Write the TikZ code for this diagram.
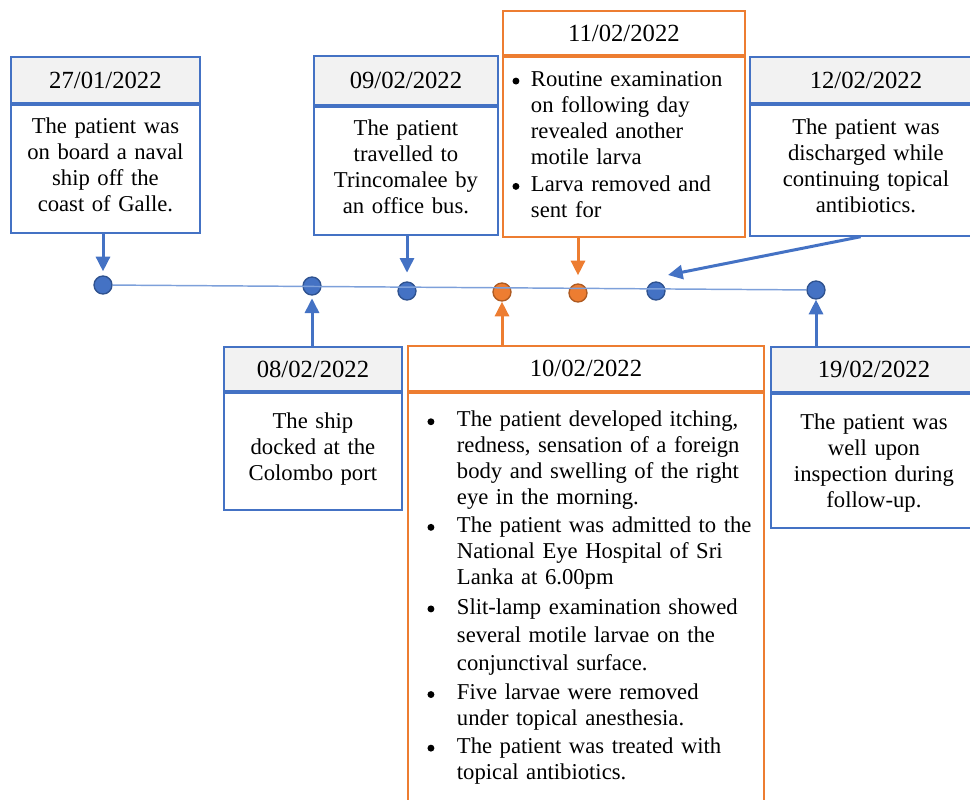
\documentclass[tikz,border=0pt]{standalone}
\usepackage{fontspec}
\setmainfont{Liberation Serif}
\usepackage{enumitem}
\usetikzlibrary{arrows.meta, calc}
\definecolor{evblue}{HTML}{4472C4}
\definecolor{evblueedge}{HTML}{2F528F}
\definecolor{evorange}{HTML}{ED7D31}
\definecolor{evorangeedge}{HTML}{AE5A21}
\definecolor{headgray}{HTML}{F2F2F2}
\definecolor{linkblue}{HTML}{7DA0DA}
\newcommand{\itemdot}{\tikz[baseline={(0pt,-3.8pt)}]\fill (0pt,0pt) circle (2.6pt);}
\tikzset{
    datecell/.style={line width=1.4pt, anchor=north west, inner sep=0pt,
        font=\fontsize{18.5}{21}\selectfont, align=center},
    notecell/.style={line width=1.4pt, anchor=north west, inner sep=0pt,
        font=\fontsize{17}{19.5}\selectfont, align=center},
    bluedate/.style={datecell, draw=evblue, fill=headgray},
    orangedate/.style={datecell, draw=evorange, fill=white},
    bluenote/.style={notecell, draw=evblue, execute at begin node=\strut,
        execute at end node={\strut\vspace{#1}}},
    bluenote/.default=3pt,
    orangenote/.style={notecell, draw=evorange, align=left},
    eventdot/.style={circle, inner sep=0pt, minimum size=13.5pt, line width=1pt},
    bluedot/.style={eventdot, fill=evblue, draw=evblueedge},
    orangedot/.style={eventdot, fill=evorange, draw=evorangeedge},
    bluearrow/.style={draw=evblue, line width=2.25pt,
        -{Triangle[length=11pt, width=10.5pt]}},
    orangearrow/.style={draw=evorange, line width=2.25pt,
        -{Triangle[length=11pt, width=10.5pt]}},
    timeline/.style={draw=linkblue, line width=1.1pt},
}

\begin{document}
\begin{tikzpicture}[x=0.75pt, y=-0.75pt]
    \useasboundingbox (0, 0) rectangle (970, 799);
    % events above the line
    \node[bluedate, text width=141.75pt, minimum height=34.5pt] (d1) at (10, 56)
        {27/01/2022};
    \node[bluenote, text width=141.75pt, minimum height=96pt] (b1)
        at (d1.south west) {The patient was\\ on board a naval\\ ship off the\\
        coast of Galle.};
    \node[bluedate, text width=138pt, minimum height=36.75pt] (d2) at (313, 55)
        {09/02/2022};
    \node[bluenote, text width=138pt, minimum height=96pt] (b2)
        at (d2.south west) {The patient\\ travelled to\\ Trincomalee by\\
        an office bus.};
    \node[orangedate, text width=181.5pt, minimum height=33pt] (d3) at (502, 10)
        {11/02/2022};
    \node[orangenote, text width=181.5pt, minimum height=135pt] (b3)
        at (d3.south west) {%
        \begin{itemize}[nosep, label=\itemdot, leftmargin=21pt, labelsep=8.65pt,
            itemsep=1pt]
            \item \strut Routine examination\newline on following day\newline
                revealed another\newline motile larva
            \item Larva removed and\newline sent for\rule[-12pt]{0pt}{12pt}
        \end{itemize}};
    \node[bluedate, text width=174pt, minimum height=34.5pt] (d4) at (749, 56)
        {12/02/2022};
    \node[bluenote, text width=174pt, minimum height=98.25pt] (b4)
        at (d4.south west) {The patient was\\ discharged while\\
        continuing topical\\ antibiotics.};
    % events below the line
    \node[bluedate, text width=133.5pt, minimum height=33pt] (d5) at (223, 346)
        {08/02/2022};
    \node[bluenote, text width=133.5pt, minimum height=87.75pt] (b5)
        at (d5.south west) {The ship\\ docked at the\\ Colombo port};
    \node[orangedate, text width=267pt, minimum height=33.75pt] (d6) at (407, 345)
        {10/02/2022};
    \node[orangenote, text width=267pt, inner ysep=6pt, text depth=330pt] (b6)
        at (d6.south west) {%
        \begin{itemize}[nosep, label=\itemdot, leftmargin=36.75pt,
            labelsep=16.9pt, itemsep=1.2pt]
            \item The patient developed itching,\newline redness, sensation of a
                foreign\newline body and swelling of the right\newline eye in the
                morning.
            \item The patient was admitted to the\newline National Eye Hospital
                of Sri\newline Lanka at 6.00pm
            \item {\fontsize{17}{21}\selectfont Slit-lamp examination
                showed\newline several motile larvae on the\newline conjunctival
                surface.\par}\vspace{1.5pt}
            \item Five larvae were removed\newline under topical anesthesia.
            \item The patient was treated with\newline topical antibiotics.
        \end{itemize}};
    \node[bluedate, text width=154.5pt, minimum height=33.75pt] (d7) at (770, 346)
        {19/02/2022};
    \node[bluenote=-3pt, text width=154.5pt, minimum height=100.5pt] (b7)
        at (d7.south west) {The patient was\\ well upon\\ inspection during\\
        follow-up.};
    % the time line
    \node[bluedot] (t1) at (103, 285) {};
    \node[bluedot] (t2) at (312, 286) {};
    \node[bluedot] (t3) at (407, 291) {};
    \node[orangedot] (t4) at (502, 292) {};
    \node[orangedot] (t5) at (578, 293) {};
    \node[bluedot] (t6) at (656, 291) {};
    \node[bluedot] (t7) at (816, 290) {};
    \coordinate (t6tip) at (668, 275);
    \draw[timeline] (t1) -- (t7);
    \draw[bluearrow, shorten >=3pt] (t1 |- b1.south) -- (t1);
    \draw[bluearrow, shorten >=6.5pt] (t3 |- b2.south) -- (t3);
    \draw[orangearrow, shorten >=6pt] (t5 |- b3.south) -- (t5);
    \draw[bluearrow] ([xshift=-4pt]b4.south) -- (t6tip);
    \draw[bluearrow, shorten >=2pt] (t2 |- d5.north) -- (t2);
    \draw[orangearrow] (t4 |- d6.north) -- (t4);
    \draw[bluearrow] (t7 |- d7.north) -- (t7);
\end{tikzpicture}
\end{document}
